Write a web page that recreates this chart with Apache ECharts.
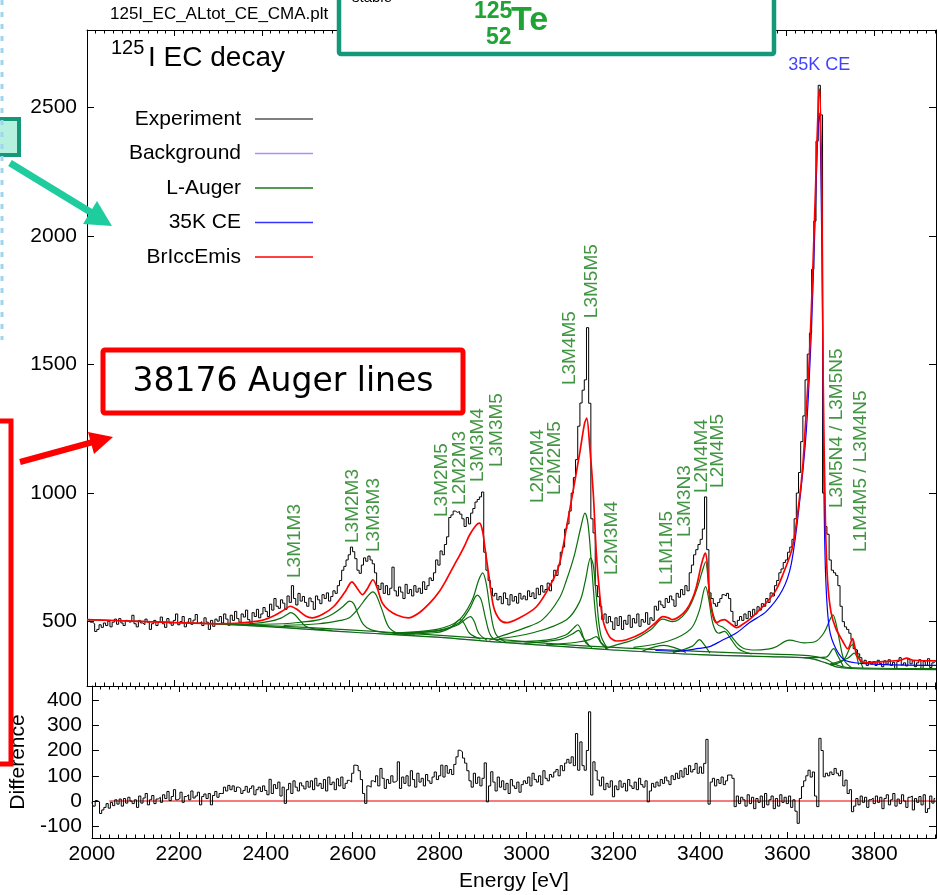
<!DOCTYPE html>
<html><head><meta charset="utf-8">
<script src="https://cdn.jsdelivr.net/npm/echarts@6/dist/echarts.min.js"></script>
<style>html,body{margin:0;padding:0;background:#fff}#c{width:937px;height:895px}</style>
</head><body><div id="c"></div><script>
// ---------- DATA ----------
const energyStart = 2000, energyStep = 5;          // histogram bins (eV)
const experimentCounts = [
 505,510,498,492,462,470,488,478,495,485,502,480,498,510,490,512,495,485,505,498,
 500,525,492,480,505,495,488,510,498,470,492,505,485,500,518,492,478,512,495,486,
 505,530,488,500,520,480,498,512,490,506,528,494,500,485,515,498,470,505,482,510,
 502,520,495,530,510,486,525,505,540,512,498,530,518,545,508,492,535,520,548,515,
 530,555,540,520,568,545,590,560,552,585,572,548,600,575,640,590,565,610,580,598,
 575,560,592,578,548,600,585,570,605,590,612,580,598,620,610,640,660,700,715,740,
 760,790,772,745,700,688,720,748,735,755,740,725,690,640,625,650,610,640,605,630,
 712,620,600,635,615,590,645,610,625,600,640,615,630,610,655,625,640,670,660,690,
 740,720,775,760,800,830,905,915,930,925,928,918,900,870,905,880,922,940,965,975,
 985,1004,770,700,660,630,600,610,585,598,570,612,590,565,605,580,598,572,610,588,
 600,585,620,598,612,590,630,605,640,615,625,650,620,660,700,680,720,770,790,860,
 880,930,1000,1060,1130,1260,1350,1400,1440,1643,1349,900,845,640,597,560,508,530,495,520,
 500,470,515,485,520,470,505,490,525,478,512,495,530,482,508,498,535,490,515,505,
 560,545,580,565,555,590,575,600,585,560,610,595,625,605,640,620,690,720,760,780,
 800,820,860,985,780,612,590,570,560,575,590,605,600,610,590,540,500,485,505,520,
 505,530,512,540,520,548,530,558,545,570,560,590,575,612,600,640,660,690,705,730,
 740,770,790,820,900,1000,1080,1200,1300,1440,1540,1622,1870,2057,2368,2585,2470,1000,870,840,
 740,700,690,680,640,560,500,480,470,455,430,395,390,375,360,340,350,330,345,335,
 345,330,350,338,325,348,335,352,330,342,318,345,360,332,340,328,355,336,348,325,
 340,352,318,345,330,356,322,340,345
];
const differenceCounts = [
 -5,-20,2,-3,-49,-35,-25,-10,-28,-5,-18,5,-12,8,-20,10,-8,15,0,-10,
 5,-25,20,-8,12,30,-15,5,22,-10,8,15,-5,25,10,38,2,18,45,5,
 10,35,-5,18,25,5,40,12,20,35,-15,18,28,10,30,-15,22,38,15,30,
 30,55,40,62,45,60,38,55,50,30,42,58,35,50,60,25,45,55,38,60,
 42,25,86,30,65,50,75,20,55,-9,45,70,30,80,55,40,72,60,48,78,
 55,80,45,90,60,70,50,85,40,95,65,75,45,88,60,95,50,70,82,75,
 110,142,140,120,85,30,-9,60,55,80,75,100,60,129,90,50,85,70,100,75,
 80,155,50,95,70,100,60,120,85,55,110,75,90,60,105,80,70,95,115,85,
 100,142,95,140,110,125,105,145,175,201,195,170,150,120,80,55,110,70,95,60,
 90,151,-3,60,116,75,40,95,55,80,45,70,30,85,60,50,75,35,65,80,
 70,95,60,110,85,75,100,65,120,90,80,105,95,115,125,100,140,120,150,165,
 150,175,140,267,122,234,140,122,200,353,24,155,120,83,60,95,45,70,55,80,
 17,60,45,80,55,70,40,85,60,50,75,45,90,65,55,80,-3,40,70,55,
 75,60,85,70,95,80,65,100,85,110,90,120,95,130,105,140,115,125,149,110,
 135,110,149,244,-12,75,90,60,85,70,95,65,80,103,103,90,-22,20,-10,15,
 5,-20,25,-10,15,-30,10,-5,20,-25,30,-15,5,20,-30,10,-20,25,-5,15,
 -10,20,-25,5,-40,-88,10,57,80,100,122,95,115,20,-22,248,200,96,110,100,
 115,105,129,110,100,120,60,83,30,45,-42,-20,10,-15,20,-5,15,-25,5,12,
 -10,20,-5,15,-30,10,25,-15,5,30,-20,8,-10,25,0,-25,15,20,-35,10,
 -5,18,-15,25,-45,-30,20,-8,10
];
const zeroLine = [[2040,0],[3942,0]];
const backgroundCurve = [[2000,508],[2200,497],[2400,482],[2600,460],[2800,440],[2944,420],[3100,402],[3195,391],[3400,372],[3560,364],[3650,358],[3690,340],[3720,322],[3800,316],[3942,314]];
const augerBaselineA = [[2000,508],[2200,497],[2400,482],[2600,460],[2800,440],[2944,420],[3100,402],[3195,391],[3400,372],[3560,364],[3650,358],[3690,340],[3720,322],[3800,316],[3942,314]];
const augerBaselineB = [[2300,492],[2500,478],[2700,458],[2900,436],[3100,410],[3300,392],[3500,378],[3650,368],[3690,355],[3710,335],[3740,322],[3942,318]];
const augerL3M1M3 = [[2330,491],[2380,493],[2420,502],[2445,515],[2458,528],[2466,535],[2475,528],[2487,505],[2500,482],[2520,472],[2560,466]];
const augerL3M2M3 = [[2350,489],[2450,492],[2490,498],[2532,508],[2562,530],[2585,558],[2601,580],[2610,570],[2620,530],[2632,490],[2650,468],[2700,455]];
const augerL3M3M3 = [[2450,486],[2530,492],[2580,505],[2600,515],[2620,550],[2640,595],[2654,616],[2662,602],[2675,545],[2690,480],[2710,456],[2750,448]];
const augerL3M2M5 = [[2700,452],[2800,458],[2830,475],[2845,498],[2853,508],[2862,495],[2875,455],[2900,432]];
const augerL2M2M3 = [[2700,454],[2800,463],[2845,485],[2868,512],[2877,520],[2886,500],[2896,455],[2915,428]];
const augerL3M3M4 = [[2700,455],[2800,465],[2850,495],[2875,550],[2893,603],[2902,583],[2912,510],[2925,442],[2950,420]];
const augerL3M3M5 = [[2700,456],[2800,470],[2850,505],[2880,580],[2896,662],[2905,690],[2913,650],[2922,550],[2935,452],[2960,418]];
const augerL2M2M4 = [[2950,420],[3050,428],[3095,448],[3113,475],[3122,488],[3130,468],[3140,420],[3155,400]];
const augerL2M2M5 = [[3000,416],[3080,430],[3110,452],[3124,466],[3134,440],[3150,404]];
const augerL3M4M5 = [[2920,428],[2944,442],[3000,475],[3042,508],[3080,590],[3097,663],[3115,760],[3130,870],[3139,922],[3146,880],[3155,700],[3165,500],[3175,420],[3190,396]];
const augerL3M5M5 = [[2944,434],[3020,457],[3097,508],[3127,578],[3140,660],[3152,748],[3158,720],[3165,600],[3175,450],[3190,398]];
const augerL2M3M4 = [[3050,410],[3120,420],[3150,430],[3165,442],[3175,420],[3190,395]];
const augerL2M4M4 = [[3185,395],[3211,410],[3250,430],[3290,470],[3317,510],[3339,500],[3371,538],[3394,622],[3408,700],[3415,733],[3422,640],[3432,530],[3442,490],[3455,478],[3465,465],[3480,430],[3500,398],[3530,390],[3570,398],[3607,428],[3640,418],[3665,422],[3685,455],[3700,510],[3706,527],[3713,495],[3722,420],[3732,350],[3750,320]];
const augerL2M4M5 = [[3250,400],[3330,425],[3380,470],[3400,540],[3415,636],[3422,590],[3432,490],[3445,455],[3458,462],[3470,440],[3490,395],[3520,375]];
const augerL3M3N3 = [[3340,380],[3385,405],[3401,430],[3410,415],[3425,378]];
const augerL1M1M5 = [[3270,385],[3320,408],[3345,398],[3370,380]];
const augerL3M5N5 = [[3640,360],[3690,362],[3708,395],[3716,372],[3730,326]];
const augerL1M4M5 = [[3700,332],[3730,350],[3751,411],[3760,382],[3775,320]];
const augerL3M4N5 = [[3700,336],[3740,358],[3755,378],[3765,332]];
const ce35K = [[3300,388],[3350,385],[3400,396],[3424,403],[3450,425],[3486,457],[3515,496],[3554,540],[3591,624],[3611,725],[3629,950],[3645,1234],[3656,1591],[3664,1980],[3671,2368],[3675,2477],[3679,2213],[3683,1591],[3686,970],[3690,659],[3698,473],[3713,395],[3736,348],[3800,335],[3942,330]];
const brIccEmis = [[2000,508],[2100,502],[2200,496],[2300,492],[2350,495],[2400,505],[2430,525],[2450,545],[2465,560],[2480,548],[2500,522],[2515,515],[2540,530],[2565,560],[2590,615],[2606,655],[2618,630],[2630,605],[2642,630],[2654,663],[2664,630],[2675,574],[2690,545],[2710,525],[2735,515],[2760,535],[2785,574],[2805,615],[2822,663],[2840,720],[2853,760],[2865,800],[2875,837],[2890,875],[2898,883],[2905,850],[2910,790],[2920,670],[2930,558],[2944,508],[2960,496],[2990,515],[3028,558],[3058,636],[3080,720],[3097,868],[3110,990],[3127,1155],[3138,1270],[3143,1291],[3150,1180],[3158,1000],[3165,767],[3172,620],[3180,508],[3195,442],[3211,425],[3234,430],[3271,457],[3300,495],[3317,520],[3330,515],[3339,508],[3355,520],[3371,546],[3385,590],[3394,636],[3405,720],[3412,760],[3415,767],[3420,700],[3424,597],[3432,520],[3440,496],[3450,505],[3458,508],[3470,495],[3486,477],[3500,490],[3515,508],[3535,540],[3554,574],[3575,620],[3591,680],[3614,791],[3629,970],[3637,1100],[3645,1312],[3652,1513],[3660,1855],[3667,2213],[3673,2523],[3676,2570],[3681,2135],[3684,1436],[3689,892],[3694,659],[3702,535],[3713,473],[3728,426],[3740,395],[3751,434],[3762,364],[3781,341],[3820,345],[3860,350],[3875,358],[3890,350],[3942,348]];
const lineLabels = [
 ['L3M1M3',2475,670],['L3M2M3',2608,806],['L3M3M3',2656,771],['L3M2M5',2811,907],['L2M2M3',2853,954],
 ['L3M3M4',2894,1043],['L3M3M5',2937,1101],['L2M2M4',3031,961],['L2M2M5',3070,992],['L3M4M5',3104,1420],
 ['L3M5M5',3154,1680],['L2M3M4',3200,681],['L1M1M5',3326,643],['L3M3N3',3367,829],['L2M4M4',3406,1000],
 ['L2M4M5',3442,1020],['L3M5N4 / L3M5N5',3714,942],['L1M4M5 / L3M4N5',3771,771]
];
const ceLabel = [['35K CE',3675,2664]];
const energyTicks = [2000,2200,2400,2600,2800,3000,3200,3400,3600,3800];
const mainTicks = [500,1000,1500,2000,2500];
const diffTicks = [-100,0,100,200,300,400];

// ---------- CHART ----------
const FONT = 'Liberation Sans, Arial, Helvetica, sans-serif';
const GREEN = '#0b6e0b';
const plain = v => String(v);
const chart = echarts.init(document.getElementById('c'), null, {renderer:'canvas'});
const augerSets = [augerBaselineA, augerBaselineB, augerL3M1M3, augerL3M2M3, augerL3M3M3, augerL3M2M5, augerL2M2M3, augerL3M3M4, augerL3M3M5,
  augerL2M2M4, augerL2M2M5, augerL3M4M5, augerL3M5M5, augerL2M3M4, augerL2M4M4, augerL2M4M5, augerL3M3N3, augerL1M1M5, augerL3M5N5, augerL1M4M5, augerL3M4N5];

function xAx(grid, pos, labels){
  return {type:'value', gridIndex:grid, position:pos, min:2000, max:3942, interval:200,
    axisLine:{show:true, onZero:false, lineStyle:{color:'#000', width:1}},
    axisTick:{show:true, inside:true, length:6, lineStyle:{color:'#000'}},
    minorTick:{show:true, splitNumber:10, length:3.5, lineStyle:{color:'#000'}},
    splitLine:{show:false},
    axisLabel:{show:labels, fontSize:21, color:'#000', fontFamily:FONT, margin:6,
      customValues:energyTicks, formatter:plain},
    name: labels ? 'Energy [eV]' : '', nameLocation:'middle', nameGap:33,
    nameTextStyle:{fontSize:21, color:'#000', fontFamily:FONT}};
}
function yAx(grid, pos, min, max, ticks, labels, name){
  return {type:'value', gridIndex:grid, position:pos, min:min, max:max,
    axisLine:{show:true, onZero:false, lineStyle:{color:'#000', width:1}},
    axisTick:{show:true, inside:true, length:7, customValues:ticks, lineStyle:{color:'#000'}},
    splitLine:{show:false},
    axisLabel:{show:labels, customValues:ticks, fontSize:21, color:'#000', fontFamily:FONT, margin:10, formatter:plain},
    name:name||'', nameLocation:'middle', nameGap:54, nameRotate:90,
    nameTextStyle:{fontSize:21, color:'#000', fontFamily:FONT}};
}

const series = [];
series.push({name:'Experiment', type:'line', xAxisIndex:0, yAxisIndex:0, step:'middle', showSymbol:false, z:2,
  data: experimentCounts.map((v,i)=>[energyStart+i*energyStep, v]),
  lineStyle:{color:'#000', width:1}, itemStyle:{color:'#555'}});
series.push({name:'Background', type:'line', xAxisIndex:0, yAxisIndex:0, smooth:0.3, showSymbol:false, z:3,
  data: backgroundCurve, lineStyle:{color:'#b08cff', width:1}, itemStyle:{color:'#b08cff'}});
augerSets.forEach(d=>series.push({name:'L-Auger', type:'line', xAxisIndex:0, yAxisIndex:0, smooth:0.35, showSymbol:false, z:4,
  data:d, lineStyle:{color:GREEN, width:1.2}, itemStyle:{color:'#1a7a1a'}}));
series.push({name:'35K CE', type:'line', xAxisIndex:0, yAxisIndex:0, smooth:0.3, showSymbol:false, z:5,
  data: ce35K, lineStyle:{color:'#0000ff', width:1.2}, itemStyle:{color:'#3333ff'}});
series.push({name:'BrIccEmis', type:'line', xAxisIndex:0, yAxisIndex:0, smooth:0.3, showSymbol:false, z:6,
  data: brIccEmis, lineStyle:{color:'#ff0000', width:1.7}, itemStyle:{color:'#ff0000'}});
series.push({name:'lineLabels', type:'scatter', xAxisIndex:0, yAxisIndex:0, symbolSize:0, silent:true, z:7,
  data: lineLabels.map(l=>({name:l[0], value:[l[1],l[2]]})),
  label:{show:true, formatter:'{b}', position:[0,0], rotate:90, align:'left', verticalAlign:'middle',
    color:'#137a13', fontSize:19, fontFamily:FONT}});
series.push({name:'ceLabel', type:'scatter', xAxisIndex:0, yAxisIndex:0, symbolSize:0, silent:true, z:7,
  data: ceLabel.map(l=>({name:l[0], value:[l[1],l[2]]})),
  label:{show:true, formatter:'{b}', position:[0,0], align:'center', verticalAlign:'middle',
    color:'#1010ff', fontSize:18, fontFamily:FONT}});
series.push({name:'zero', type:'line', xAxisIndex:2, yAxisIndex:2, showSymbol:false, z:2,
  data: zeroLine, lineStyle:{color:'#f05050', width:1.5}});
series.push({name:'Difference', type:'line', xAxisIndex:2, yAxisIndex:2, step:'middle', showSymbol:false, z:3,
  data: differenceCounts.map((v,i)=>[energyStart+i*energyStep, v]), lineStyle:{color:'#000', width:1}});

const overlay = [
  // file name
  {type:'text', left:110, top:6, z:100, style:{text:'125I_EC_ALtot_CE_CMA.plt', font:'17px '+FONT, fill:'#000'}},
  // title
  {type:'text', left:111, top:38, z:100, style:{text:'125', font:'20px '+FONT, fill:'#000'}},
  {type:'text', left:148, top:44, z:100, style:{text:'I EC decay', font:'28px '+FONT, fill:'#000'}},
  // green nuclide box at top
  {type:'rect', z:100, shape:{x:339, y:-10, width:435, height:64, r:2}, style:{fill:'#fff', stroke:'#15977a', lineWidth:4.5}},
  {type:'text', left:352, top:-10, z:101, style:{text:'stable', font:'15px '+FONT, fill:'#000'}},
  {type:'text', left:474, top:0, z:101, style:{text:'125', font:'bold 23px '+FONT, fill:'#1ea334'}},
  {type:'text', left:486, top:26, z:101, style:{text:'52', font:'bold 23px '+FONT, fill:'#1ea334'}},
  {type:'text', left:511, top:4, z:101, style:{text:'Te', font:'bold 34px '+FONT, fill:'#1ea334'}},
  // small teal box + arrow on the left
  {type:'rect', z:100, shape:{x:-6, y:119, width:25, height:36}, style:{fill:'#b6f0df', stroke:'#15977a', lineWidth:4}},
  {type:'line', z:100, shape:{x1:10, y1:163, x2:92, y2:213}, style:{stroke:'#1fcc9e', lineWidth:7}},
  {type:'polygon', z:100, shape:{points:[[112,226],[83,224],[97,201]]}, style:{fill:'#1fcc9e'}},
  // light blue dashed edge
  {type:'line', z:100, shape:{x1:2, y1:0, x2:2, y2:340}, style:{stroke:'#9fd5f0', lineWidth:3, lineDash:[5,7]}},
  // red annotation box
  {type:'rect', z:100, shape:{x:103, y:350, width:360, height:63, r:2}, style:{fill:'#fff', stroke:'#ff0000', lineWidth:5}},
  {type:'text', z:101, x:283, y:382, style:{text:'38176 Auger lines', font:'33px DejaVu Sans, sans-serif', fill:'#000', align:'center', verticalAlign:'middle'}},
  {type:'rect', z:100, shape:{x:-10, y:421, width:21, height:343}, style:{fill:'none', stroke:'#ff0000', lineWidth:5}},
  {type:'line', z:100, shape:{x1:20, y1:462, x2:93, y2:442}, style:{stroke:'#ff0000', lineWidth:6}},
  {type:'polygon', z:100, shape:{points:[[113,437],[94,454],[88,432]]}, style:{fill:'#ff0000'}}
];

chart.setOption({
  animation:false,
  textStyle:{fontFamily:FONT},
  grid:[{left:87, top:30, width:849, height:656}, {left:87, top:686, width:849, height:152}],
  xAxis:[xAx(0,'bottom',false), xAx(0,'top',false), xAx(1,'bottom',true), xAx(1,'top',false)],
  yAxis:[yAx(0,'left',250,2800,mainTicks,true), yAx(0,'right',250,2800,mainTicks,false),
         yAx(1,'left',-146,455,diffTicks,true,'Difference'), yAx(1,'right',-146,455,diffTicks,false)],
  legend:{data:['Experiment','Background','L-Auger','35K CE','BrIccEmis'], orient:'vertical', align:'right',
    right:624, top:108.5, padding:0, itemGap:13.5, itemWidth:58, itemHeight:1.5, icon:'rect', selectedMode:false,
    textStyle:{fontSize:21, lineHeight:21, color:'#000', fontFamily:FONT, padding:[0,9,0,0]}},
  series: series,
  graphic: overlay
});
</script></body></html>
